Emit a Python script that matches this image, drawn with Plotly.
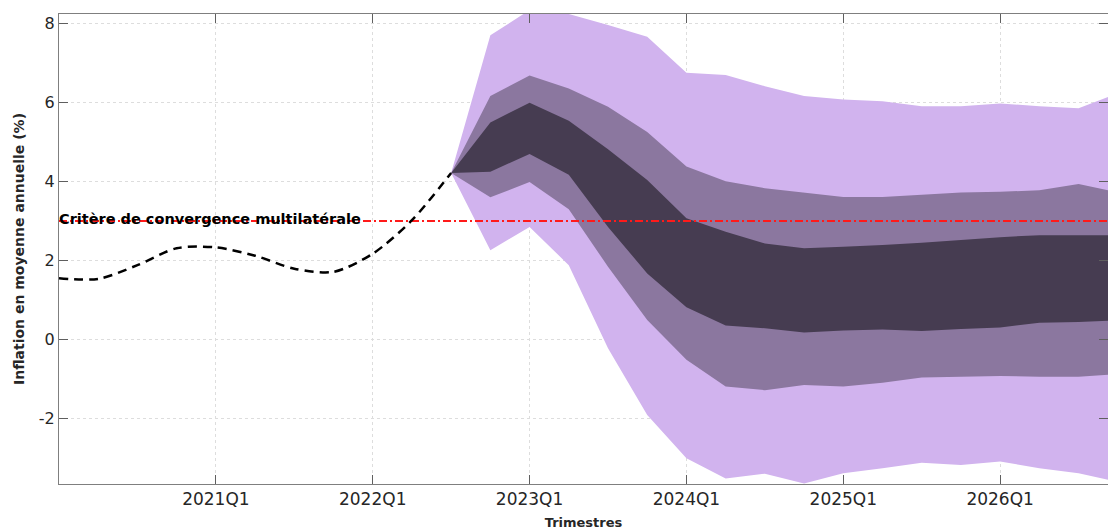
import plotly.graph_objects as go

# ---------------- data ----------------
# quarter index: 0 = 2020Q1
hist_quarters = ["2020Q1", "2020Q2", "2020Q3", "2020Q4", "2021Q1", "2021Q2",
                 "2021Q3", "2021Q4", "2022Q1", "2022Q2", "2022Q3"]
hist_values = [1.55, 1.53, 1.88, 2.31, 2.33, 2.12, 1.79, 1.71, 2.17, 3.02, 4.22]

fan_quarters = ["2022Q3", "2022Q4", "2023Q1", "2023Q2", "2023Q3", "2023Q4",
                "2024Q1", "2024Q2", "2024Q3", "2024Q4", "2025Q1", "2025Q2",
                "2025Q3", "2025Q4", "2026Q1", "2026Q2", "2026Q3", "2026Q4"]
outer_upper = [4.22, 7.71, 8.35, 8.25, 7.97, 7.67, 6.76, 6.70, 6.42, 6.17,
               6.08, 6.04, 5.91, 5.91, 5.98, 5.91, 5.86, 6.24]
mid_upper = [4.22, 6.17, 6.69, 6.36, 5.90, 5.26, 4.38, 4.01, 3.83, 3.72,
             3.61, 3.61, 3.66, 3.72, 3.74, 3.78, 3.94, 3.73]
inner_upper = [4.22, 5.50, 6.00, 5.54, 4.82, 4.04, 3.07, 2.73, 2.43, 2.31,
               2.35, 2.39, 2.45, 2.52, 2.59, 2.64, 2.64, 2.64]
inner_lower = [4.22, 4.25, 4.70, 4.17, 2.85, 1.67, 0.81, 0.35, 0.28, 0.17,
               0.22, 0.25, 0.21, 0.26, 0.30, 0.42, 0.44, 0.48]
mid_lower = [4.22, 3.60, 3.99, 3.30, 1.84, 0.49, -0.52, -1.20, -1.29, -1.16,
             -1.20, -1.10, -0.97, -0.95, -0.93, -0.95, -0.95, -0.88]
outer_lower = [4.22, 2.26, 2.85, 1.88, -0.23, -1.92, -3.02, -3.53, -3.41, -3.66,
               -3.40, -3.27, -3.13, -3.19, -3.10, -3.27, -3.40, -3.62]

criterion_value = 3.0
criterion_label = "Critère de convergence multilatérale"

tick_labels = ["2021Q1", "2022Q1", "2023Q1", "2024Q1", "2025Q1", "2026Q1"]
y_ticks = [-2, 0, 2, 4, 6, 8]
y_tick_labels = ["-2", "0", "2", "4", "6", "8"]

# ---------------- helpers ----------------
def q_index(label):
    year = int(label[:4])
    q = int(label[-1])
    return (year - 2020) * 4 + (q - 1)

hist_x = [q_index(q) for q in hist_quarters]
fan_x = [q_index(q) for q in fan_quarters]
tick_vals = [q_index(t) for t in tick_labels]

C_OUTER = "#D1B3EE"
C_MID = "#8B779F"
C_INNER = "#463C51"

fig = go.Figure()

def band(upper, lower, color):
    fig.add_trace(go.Scatter(
        x=fan_x + fan_x[::-1],
        y=upper + lower[::-1],
        fill="toself", fillcolor=color,
        line=dict(width=0, color=color),
        mode="lines", hoverinfo="skip", showlegend=False,
    ))

band(outer_upper, outer_lower, C_OUTER)
band(mid_upper, mid_lower, C_MID)
band(inner_upper, inner_lower, C_INNER)

x_min, x_max = 0, 26.75
fig.add_trace(go.Scatter(
    x=[x_min, x_max], y=[criterion_value, criterion_value],
    mode="lines", line=dict(color="#FF1A1A", width=2, dash="8px,3px,2px,3px"),
    hoverinfo="skip", showlegend=False,
))

fig.add_trace(go.Scatter(
    x=hist_x, y=hist_values, mode="lines",
    line=dict(color="black", width=2.5, dash="9px,6px", shape="spline", smoothing=0.8),
    hoverinfo="skip", showlegend=False,
))

fig.add_annotation(
    x=x_min, y=criterion_value, xref="x", yref="y",
    text="<b>" + criterion_label + "</b>", showarrow=False,
    xanchor="left", yanchor="middle", yshift=2, xshift=-2,
    font=dict(family="DejaVu Sans", size=14.5, color="black"),
)

axis_common = dict(
    showline=True, linecolor="#7F7F7F", linewidth=1, mirror="ticks",
    ticks="inside", tickcolor="#5F5F5F", ticklen=9, tickwidth=1,
    showgrid=True, gridcolor="#DDDDDD", griddash="dot", gridwidth=1,
    zeroline=False, automargin=False,
)

fig.update_xaxes(
    range=[x_min, x_max], tickmode="array", tickvals=tick_vals, ticktext=tick_labels,
    tickfont=dict(family="DejaVu Sans", size=17, color="#262626"),
    title=dict(text="<b>Trimestres</b>", font=dict(family="DejaVu Sans", size=13, color="#262626"),
               standoff=9),
    **axis_common,
)
fig.update_yaxes(
    range=[-3.67, 8.25], tickmode="array", tickvals=y_ticks, ticktext=y_tick_labels,
    tickfont=dict(family="DejaVu Sans", size=16, color="#262626"),
    title=dict(text="<b>Inflation en moyenne annuelle (%)</b>",
               font=dict(family="DejaVu Sans", size=14, color="#262626"), standoff=10),
    **axis_common,
)

fig.update_layout(
    width=1108, height=530, autosize=False,
    margin=dict(l=59, r=0, t=14, b=46),
    plot_bgcolor="white", paper_bgcolor="white",
    showlegend=False,
)

fig.write_html(
    "out.html",
    config={"displayModeBar": False, "staticPlot": True},
    post_script="document.body.style.margin='0px';document.body.style.overflow='hidden';",
)
